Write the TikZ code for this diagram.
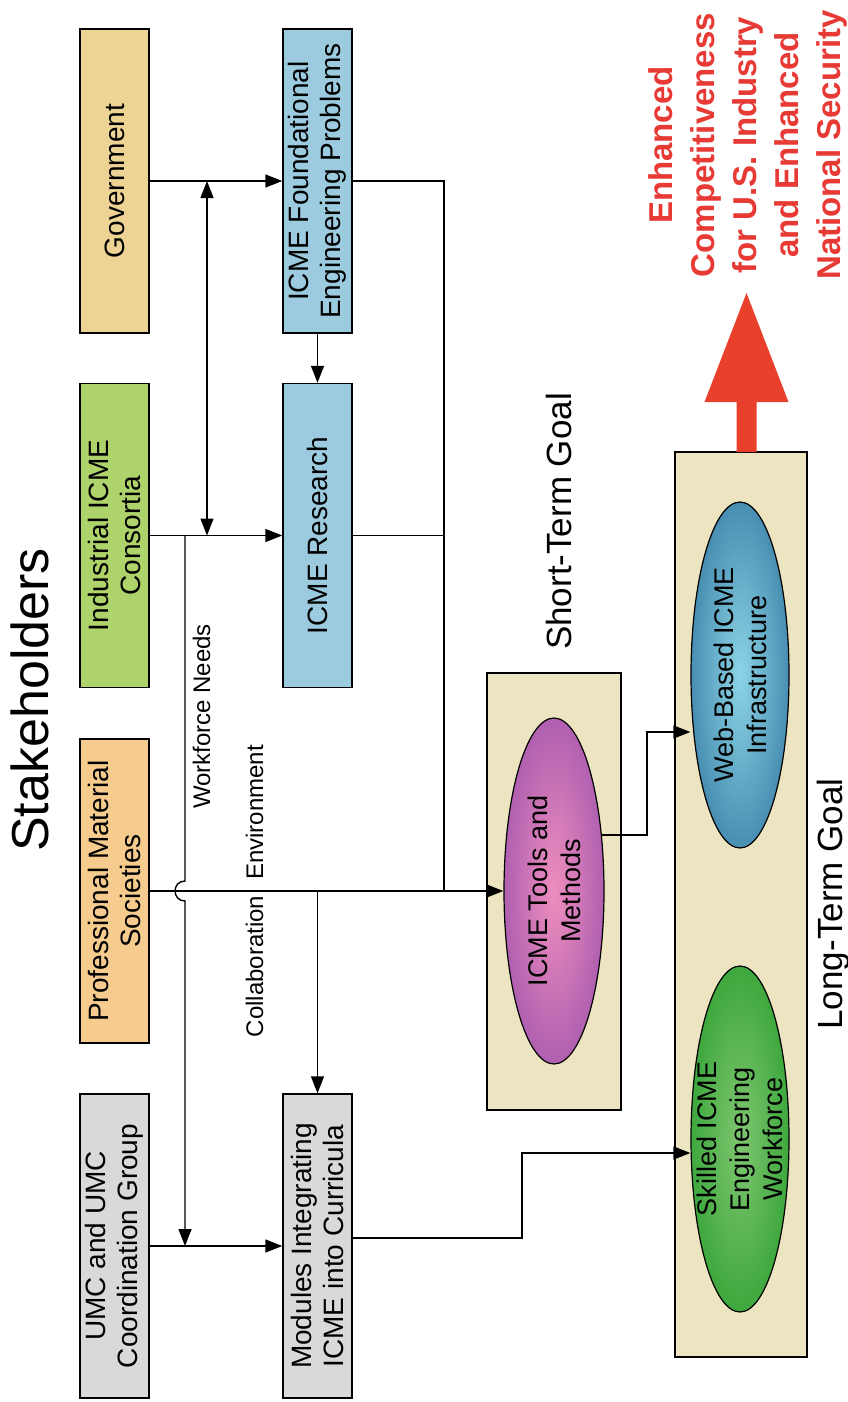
\documentclass[tikz,border=0pt]{standalone}
\usepackage{fontspec}
\setmainfont{Liberation Sans}
\usetikzlibrary{arrows.meta,shapes.geometric,calc}
\pgfdeclarelayer{fg}
\pgfsetlayers{main,fg}
\definecolor{govc}{RGB}{237,212,148}
\definecolor{indc}{RGB}{174,211,106}
\definecolor{profc}{RGB}{246,203,142}
\definecolor{grayc}{RGB}{217,217,217}
\definecolor{bluec}{RGB}{156,203,223}
\definecolor{beigec}{RGB}{237,229,193}
\definecolor{redc}{RGB}{232,64,42}
\definecolor{redt}{RGB}{232,58,53}
\definecolor{toolsin}{RGB}{238,142,190}
\definecolor{toolsout}{RGB}{176,96,176}
\definecolor{webin}{RGB}{140,212,230}
\definecolor{webout}{RGB}{72,142,178}
\definecolor{skin}{RGB}{128,198,112}
\definecolor{skout}{RGB}{62,168,62}
\begin{document}
\begin{tikzpicture}[x=1pt,y=-1pt,
  box/.style={draw=black, line width=1.4pt, rotate=90, minimum width=304pt,
    minimum height=69pt, inner sep=0pt, align=center,
    font=\fontsize{28pt}{32pt}\selectfont},
  goalbox/.style={draw=black, line width=1.4pt, fill=beigec, inner sep=0pt},
  oval/.style={ellipse, draw=black, line width=1.2pt, rotate=90,
    minimum width=346pt, inner sep=0pt, align=center,
    font=\fontsize{27pt}{33pt}\selectfont},
  conn/.style={line width=1.4pt},
  arr/.style={conn, -{Triangle[length=17pt,width=13pt]}},
  darr/.style={conn, {Triangle[length=17pt,width=13pt]}-{Triangle[length=17pt,width=13pt]}},
  lbl/.style={rotate=90, anchor=base, inner sep=0pt}]
\useasboundingbox (0,0) rectangle (848,1402);
\fill[white] (0,0) rectangle (848,1402);

% goal boxes
\node[goalbox, minimum width=134pt, minimum height=437pt] (st) at (554,891.5) {};
\node[goalbox, minimum width=132pt, minimum height=905pt] (lt) at (741,904.5) {};

% stakeholder boxes
\node[box, fill=govc] (gov) at (114.5,181) {Government};
\node[box, fill=indc] (ind) at (114.5,535.5) {Industrial ICME\\Consortia};
\node[box, fill=profc] (prof) at (114.5,891) {Professional Material\\Societies};
\node[box, fill=grayc] (umc) at (114.5,1246) {UMC and UMC\\Coordination Group};
\node[box, fill=bluec] (found) at (317.5,181) {ICME Foundational\\Engineering Problems};
\node[box, fill=bluec] (res) at (317.5,535.5) {ICME Research};
\node[box, fill=grayc] (mod) at (317.5,1246) {Modules Integrating\\ICME into Curricula};

% ellipses
\begin{pgfonlayer}{fg}
\node[oval, minimum height=100pt, shading=radial, inner color=toolsin, outer color=toolsout] (tools) at (554,891) {ICME Tools and\\Methods};
\node[oval, minimum height=98pt, shading=radial, inner color=webin, outer color=webout] (web) at (740,675) {Web-Based ICME\\Infrastructure};
\node[oval, minimum height=98pt, inner ysep=-22pt, shading=radial, inner color=skin, outer color=skout] (skilled) at (740,1139) {Skilled ICME\\Engineering\\Workforce};
\end{pgfonlayer}

% helper coordinates
\coordinate (vx) at (207,0);
\coordinate (jx) at (444,0);
\coordinate (wx) at (185,0);
\coordinate (mx) at (522,1153);
\coordinate (tx) at (647,732);

% connectors
\draw[arr] (gov.south) -- (found.north);
\draw[arr] (ind.south) -- (res.north);
\draw[darr] (vx |- gov.south) -- (vx |- ind.south);
\draw[arr] (found.west) -- (res.east);
\draw[conn] (found.south) -| (jx |- prof.south);
\draw[conn] (res.south) -- (jx |- res.south);
\draw[arr] (prof.south) -- (tools.north);
\draw[arr] (mod.east |- prof.south) -- (mod.east);
\draw[arr] (wx |- ind.south) -- (185,881) to[out=180,in=180,looseness=1.7] (185,901) -- (wx |- umc.south);
\draw[arr] (umc.south) -- (mod.north);
\draw[arr] ([yshift=8pt]mod.south) -| (mx) -- ([yshift=-14pt]skilled.north);
\draw[arr] ([yshift=56pt]tools.center) -| (tx) -- ([yshift=-57pt]web.north);

% big red arrow
\fill[redc] (736.5,452) -- (736.5,402) -- (704.5,402) -- (746.5,293) -- (788.5,402) -- (756.5,402) -- (756.5,452) -- cycle;

% labels
\node[lbl, font=\fontsize{52pt}{60pt}\selectfont] (stk) at (48,700) {Stakeholders};
\node[lbl, font=\fontsize{24pt}{28pt}\selectfont] (wn) at (210,716.5) {Workforce Needs};
\node[lbl, font=\fontsize{24pt}{28pt}\selectfont] (ce) at (263,891) {Collaboration\hspace{16pt}Environment};
\node[lbl, font=\fontsize{35pt}{40pt}\selectfont] (stg) at (571,521.5) {Short-Term Goal};
\node[lbl, font=\fontsize{35pt}{40pt}\selectfont] (ltg) at (842,904) {Long-Term Goal};
\node[rotate=90, align=center, inner sep=0pt, text=redt,
  font=\bfseries\fontsize{33pt}{42pt}\selectfont] (res2) at (748,145)
  {Enhanced\\Competitiveness\\for U.S. Industry\\and Enhanced\\National Security};
\end{tikzpicture}
\end{document}
